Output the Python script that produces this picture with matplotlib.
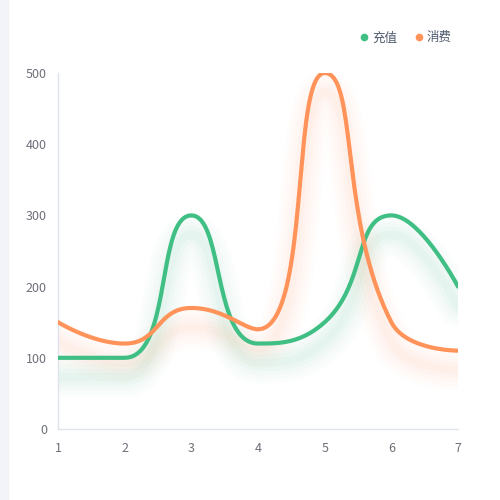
import numpy as np
import matplotlib.pyplot as plt
from matplotlib.patches import Rectangle

plt.rcParams['font.family'] = ['Noto Sans CJK SC', 'DejaVu Sans']

x_vals = [1, 2, 3, 4, 5, 6, 7]
chongzhi = [100, 100, 300, 120, 150, 300, 200]
xiaofei = [150, 120, 170, 140, 500, 150, 110]
series_names = ['充值', '消费']
colors = ['#3fbf84', '#ff935a']

# pixel scale of the plot area, used for echarts-like smoothing
SX, SY = 400 / 6, 356 / 500


def smooth_path(xs, ys, smooth=0.5, n=40):
    pts = [(x * SX, y * SY) for x, y in zip(xs, ys)]
    cnt = len(pts)
    out_x, out_y = [], []
    cp0 = pts[0]
    for i in range(1, cnt):
        x, y = pts[i]
        px, py = pts[i - 1]
        if i < cnt - 1:
            nx, ny = pts[i + 1]
            vx, vy = nx - px, ny - py
            l0 = np.hypot(x - px, y - py)
            l1 = np.hypot(nx - x, ny - y)
            r = l1 / (l0 + l1)
            ncx = x + vx * smooth * r
            ncy = y + vy * smooth * r
            ncx = max(min(ncx, max(nx, x)), min(nx, x))
            ncy = max(min(ncy, max(ny, y)), min(ny, y))
            vx, vy = ncx - x, ncy - y
            c1x = x - vx * l0 / l1
            c1y = y - vy * l0 / l1
            c1x = max(min(c1x, max(px, x)), min(px, x))
            c1y = max(min(c1y, max(py, y)), min(py, y))
            vx, vy = x - c1x, y - c1y
            ncx = x + vx * l1 / l0
            ncy = y + vy * l1 / l0
        else:
            c1x, c1y = x, y
            ncx, ncy = x, y
        t = np.linspace(0, 1, n)
        bx = ((1 - t) ** 3 * px + 3 * (1 - t) ** 2 * t * cp0[0]
              + 3 * (1 - t) * t ** 2 * c1x + t ** 3 * x)
        by = ((1 - t) ** 3 * py + 3 * (1 - t) ** 2 * t * cp0[1]
              + 3 * (1 - t) * t ** 2 * c1y + t ** 3 * y)
        out_x.extend(bx)
        out_y.extend(by)
        cp0 = (ncx, ncy)
    return np.array(out_x) / SX, np.array(out_y) / SY


fig = plt.figure(figsize=(5, 5), dpi=100)
fig.patches.append(Rectangle((0, 0), 0.016, 1, transform=fig.transFigure,
                             color='#f3f4f9', zorder=0))
ax = fig.add_axes([0.116, 0.142, 0.8, 0.712])

for vals, c, name in zip([chongzhi, xiaofei], colors, series_names):
    sx, sy = smooth_path(x_vals, vals)
    # soft shadow below the line
    for w, a in [(30, 0.015), (24, 0.02), (18, 0.025), (12, 0.03), (6, 0.04)]:
        ax.plot(sx, sy - 27, color=c, lw=w, alpha=a, solid_capstyle='round',
                zorder=1)
    ax.plot(sx, sy, color=c, lw=3, zorder=3, solid_capstyle='round')
    ax.plot([], [], 'o', color=c, ms=4.5, label=name)

ax.set_xlim(1, 7)
ax.set_ylim(0, 500)
ax.set_xticks(x_vals)
ax.set_yticks([0, 100, 200, 300, 400, 500])
for s in ['top', 'right']:
    ax.spines[s].set_visible(False)
for s in ['left', 'bottom']:
    ax.spines[s].set_color('#dfe3ec')
    ax.spines[s].set_linewidth(1)
ax.tick_params(length=0, labelsize=9, colors='#6e7079', pad=8)
ax.tick_params(axis='x', pad=9)

leg = fig.legend(loc='upper right', bbox_to_anchor=(0.925, 0.96), ncol=2,
                 frameon=False, fontsize=9, handlelength=0.5,
                 handletextpad=0.35, columnspacing=1.5)
for t in leg.get_texts():
    t.set_color('#505a6e')

fig.savefig('out.png', dpi=100)
